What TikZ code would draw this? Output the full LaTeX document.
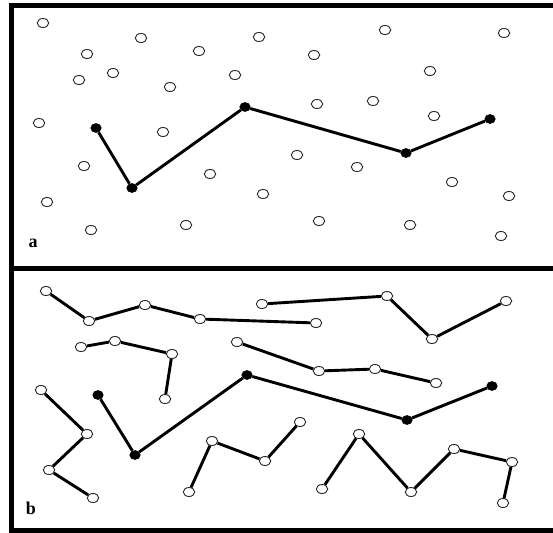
\documentclass[tikz,border=0pt]{standalone}
\usepackage{fontspec}
\setmainfont{Liberation Serif}
\usetikzlibrary{shapes.geometric}
\begin{document}
\begin{tikzpicture}[x=1pt,y=-1pt,
  open/.style={ellipse,draw=black!85,fill=white,line width=0.9pt,minimum width=11.5pt,minimum height=9pt,inner sep=0pt},
  dot/.style={ellipse,draw=black,fill=black,line width=0.6pt,minimum width=10.5pt,minimum height=9pt,inner sep=0pt},
  link/.style={line width=2.9pt,black},
  frame/.style={line width=5pt,black},
  lab/.style={font=\fontsize{18}{18}\selectfont\bfseries,inner sep=0pt}]
\useasboundingbox (0,0) rectangle (553,532);
% frame
\draw[frame] (553,6) -- (11,6) -- (11,530) -- (553,530);
\draw[frame] (11,268) -- (553,268);
% panel a
\foreach \n/\x/\y in {a1/43/23,a2/141/38,a3/259/37,a4/385/30,a5/504/33,
  a6/87/54,a7/199/51,a8/314/55,a9/430/71,
  a10/79/80,a11/113/73,a12/235/75,a13/170/87,
  a14/39/123,a15/163/132,a16/317/104,a17/373/101,a18/434/116,
  a19/84/166,a20/210/174,a21/297/155,a22/357/167,a23/452/182,a24/509/196,
  a25/47/202,a26/263/194,a27/319/221,a28/410/225,a29/501/236,
  a30/91/230,a31/186/225}
  \node[open] (\n) at (\x,\y) {};
\foreach \n/\x/\y in {p1/96/128,p2/132/188,p3/245/107,p4/406/153,p5/490/119}
  \node[dot] (\n) at (\x,\y) {};
\draw[link] (p1) -- (p2) -- (p3) -- (p4) -- (p5);
\node[lab] (la) at (33,243) {a};
% panel b
\foreach \n/\x/\y in {
  c11/46/291,c12/89/321,c13/145/305,c14/200/319,c15/316/323,
  c21/262/304,c22/387/296,c23/432/339,c24/506/301,
  c31/81/347,c32/115/341,c33/172/354,c34/165/399,
  c41/237/342,c42/319/371,c43/375/369,c44/436/383,
  c51/41/390,c52/87/434,c53/49/470,c54/93/498,
  c61/189/492,c62/212/441,c63/265/461,c64/300/422,
  c71/322/489,c72/359/434,c73/411/492,c74/454/449,c75/512/462,c76/503/503}
  \node[open] (\n) at (\x,\y) {};
\foreach \n/\x/\y in {q1/98/395,q2/135/455,q3/247/375,q4/407/420,q5/492/386}
  \node[dot] (\n) at (\x,\y) {};
\draw[link] (c11) -- (c12) -- (c13) -- (c14) -- (c15);
\draw[link] (c21) -- (c22) -- (c23) -- (c24);
\draw[link] (c31) -- (c32) -- (c33) -- (c34);
\draw[link] (c41) -- (c42) -- (c43) -- (c44);
\draw[link] (c51) -- (c52) -- (c53) -- (c54);
\draw[link] (c61) -- (c62) -- (c63) -- (c64);
\draw[link] (c71) -- (c72) -- (c73) -- (c74) -- (c75) -- (c76);
\draw[link] (q1) -- (q2) -- (q3) -- (q4) -- (q5);
\node[lab] (lb) at (31,508) {b};
\end{tikzpicture}
\end{document}
